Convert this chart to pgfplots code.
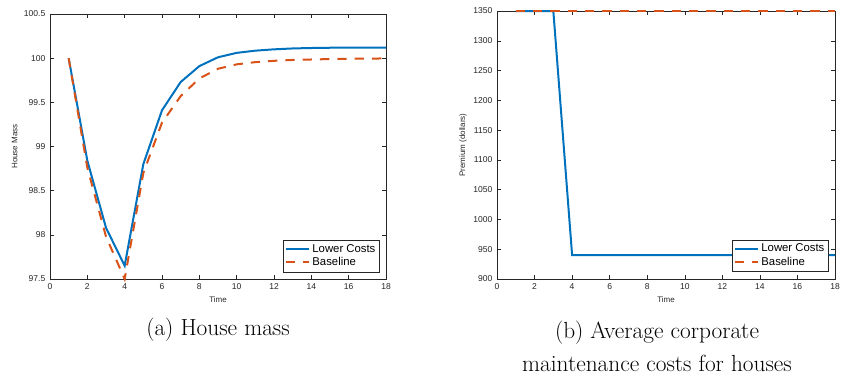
\documentclass[border=0pt]{standalone}
\usepackage{pgfplots}
\pgfplotsset{compat=1.18}
\usepackage{fontspec}
\newfontfamily\hel{Liberation Sans}
\definecolor{mblue}{rgb}{0,0.447,0.741}
\definecolor{morange}{rgb}{0.85,0.325,0.098}
\definecolor{axgray}{HTML}{262626}
\begin{document}
\begin{tikzpicture}[x=0.75pt,y=-0.75pt]
\path[use as bounding box] (0,0) rectangle (843,381);
\pgfplotsset{
  every axis/.append style={
    scale only axis,
    axis line style={axgray, line width=0.4pt},
    tick style={axgray, line width=0.4pt},
    tick align=inside,
    major tick length=3pt,
    ticklabel style={font=\hel\fontsize{6.4}{7}\selectfont, text=axgray},
    label style={font=\hel\fontsize{6}{7}\selectfont, text=axgray},
    /pgf/number format/assume math mode=true,
    /pgf/number format/1000 sep={},
    xmin=0, xmax=18, xtick={0,2,...,18},
    clip=false,
    legend cell align=left,
    legend style={draw=axgray, line width=0.4pt, font=\hel\fontsize{8.5}{10}\selectfont,
      inner sep=1.2pt, row sep=-1.5pt, anchor=south east},
    xlabel={Time},
    xlabel style={yshift=1.5pt},
  }
}
\begin{axis}[
  at={(37.5pt,-209.25pt)}, anchor=south west,
  width=252pt, height=198.75pt,
  ymin=97.5, ymax=100.5, ytick={97.5,98,...,100.5},
  ylabel={House Mass},
  ylabel style={yshift=-2pt},
  legend style={at={(0.982,0.026)}},
]
\addplot[mblue, line width=1.5pt] coordinates {
(1,100) (2,98.84) (3,98.08) (4,97.65) (5,98.80) (6,99.41) (7,99.73) (8,99.91) (9,100.01)
(10,100.06) (11,100.085) (12,100.10) (13,100.11) (14,100.115) (15,100.118) (16,100.12) (17,100.12) (18,100.12)};
\addlegendentry{Lower Costs}
\addplot[morange, line width=1.5pt, dash pattern=on 7pt off 6pt] coordinates {
(1,100) (2,98.76) (3,97.98) (4,97.5) (5,98.70) (6,99.27) (7,99.57) (8,99.77) (9,99.88)
(10,99.93) (11,99.955) (12,99.97) (13,99.98) (14,99.985) (15,99.99) (16,99.993) (17,99.995) (18,99.997)};
\addlegendentry{Baseline}
\end{axis}
\begin{axis}[
  at={(372.75pt,-209.25pt)}, anchor=south west,
  width=253.5pt, height=201pt,
  ymin=900, ymax=1350, ytick={900,950,...,1350},
  ylabel={Premium (dollars)},
  ylabel style={yshift=-2pt},
  legend style={at={(0.982,0.026)}},
]
\addplot[mblue, line width=1.5pt] coordinates {
(1,1350) (2,1350) (3,1350) (4,940) (5,940) (6,940) (7,940) (8,940) (9,940)
(10,940) (11,940) (12,940) (13,940) (14,940) (15,940) (16,940) (17,940) (18,940)};
\addlegendentry{Lower Costs}
\addplot[morange, line width=1.5pt, dash pattern=on 7pt off 6pt] coordinates {
(1,1350) (2,1350) (3,1350) (4,1350) (5,1350) (6,1350) (7,1350) (8,1350) (9,1350)
(10,1350) (11,1350) (12,1350) (13,1350) (14,1350) (15,1350) (16,1350) (17,1350) (18,1350)};
\addlegendentry{Baseline}
\end{axis}
\node[font=\fontsize{17.5}{21}\selectfont] at (218,330) {(a) House mass};
\node[font=\fontsize{17.5}{24.75}\selectfont, align=center] at (657,346) {(b) Average corporate\\maintenance costs for houses};
\end{tikzpicture}
\end{document}
